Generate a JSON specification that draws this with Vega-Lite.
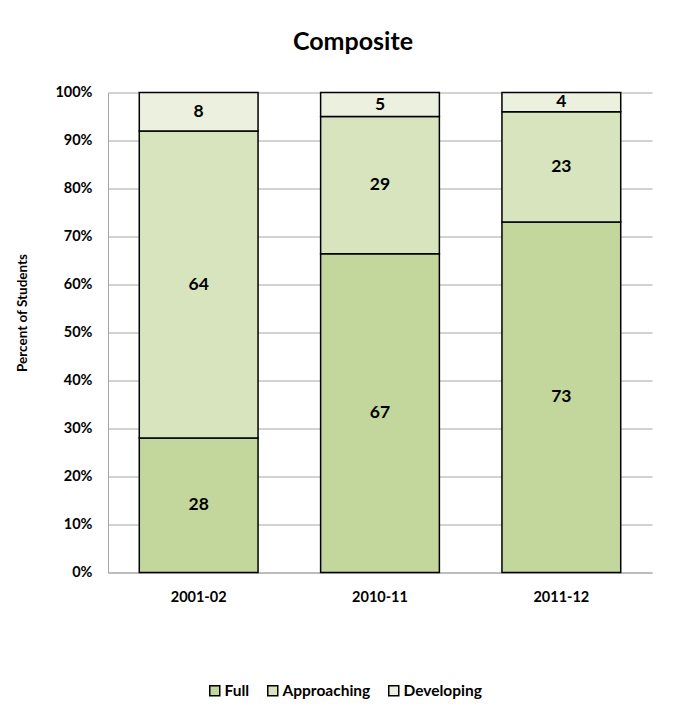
{
  "$schema": "https://vega.github.io/schema/vega-lite/v6.json",
  "width": 544,
  "height": 480,
  "autosize": {"type": "none"},
  "padding": {"left": 108, "top": 92.5, "right": 24, "bottom": 141.5},
  "background": "white",
  "config": {
    "view": {"stroke": null},
    "font": "Lato"
  },
  "title": {
    "text": "Composite",
    "font": "Lato",
    "fontSize": 25,
    "fontWeight": "bold",
    "color": "black",
    "anchor": "middle",
    "offset": 30,
    "dx": -27
  },
  "data": {
    "values": [
      {"year": "2001-02", "level": "Full", "rank": 1, "value": 28, "label": "28"},
      {"year": "2001-02", "level": "Approaching", "rank": 2, "value": 64, "label": "64"},
      {"year": "2001-02", "level": "Developing", "rank": 3, "value": 8, "label": "8"},
      {"year": "2010-11", "level": "Full", "rank": 1, "value": 66.4, "label": "67"},
      {"year": "2010-11", "level": "Approaching", "rank": 2, "value": 28.6, "label": "29"},
      {"year": "2010-11", "level": "Developing", "rank": 3, "value": 5, "label": "5"},
      {"year": "2011-12", "level": "Full", "rank": 1, "value": 73, "label": "73"},
      {"year": "2011-12", "level": "Approaching", "rank": 2, "value": 23, "label": "23"},
      {"year": "2011-12", "level": "Developing", "rank": 3, "value": 4, "label": "4"}
    ]
  },
  "encoding": {
    "x": {
      "field": "year",
      "type": "nominal",
      "scale": {"paddingInner": 0.345, "paddingOuter": 0.1725},
      "axis": {
        "title": null,
        "labelAngle": 0,
        "labelFont": "Lato",
        "labelFontSize": 14.5,
        "labelFontWeight": "bold",
        "labelColor": "black",
        "ticks": false,
        "tickSize": 0,
        "labelPadding": 18,
        "domainColor": "#a6a6a6",
        "grid": false
      }
    }
  },
  "layer": [
    {
      "mark": {"type": "bar", "stroke": "black", "strokeWidth": 1.5},
      "encoding": {
        "y": {
          "field": "value",
          "type": "quantitative",
          "stack": "zero",
          "scale": {"domain": [0, 100], "nice": false},
          "axis": {
            "title": "Percent of Students",
            "titleFont": "Lato",
            "titleFontSize": 13.5,
            "titleFontWeight": "bold",
            "titleColor": "black",
            "titleAngle": -90,
            "titleX": -86,
            "titleY": 220,
            "titleAlign": "center",
            "titleBaseline": "middle",
            "values": [0, 10, 20, 30, 40, 50, 60, 70, 80, 90, 100],
            "labelExpr": "datum.value + '%'",
            "labelFont": "Lato",
            "labelFontSize": 14.5,
            "labelFontWeight": "bold",
            "labelColor": "black",
            "labelPadding": 16,
            "ticks": false,
            "tickSize": 0,
            "domainColor": "#a6a6a6",
            "gridColor": "#a6a6a6",
            "gridWidth": 1
          }
        },
        "order": {"field": "rank", "type": "quantitative"},
        "color": {
          "field": "level",
          "type": "nominal",
          "sort": ["Full", "Approaching", "Developing"],
          "scale": {
            "domain": ["Full", "Approaching", "Developing"],
            "range": ["#c3d69b", "#d7e4bd", "#ebf1de"]
          },
          "legend": {
            "orient": "none",
            "legendX": 99,
            "legendY": 590,
            "direction": "horizontal",
            "title": null,
            "symbolType": "square",
            "symbolSize": 100,
            "symbolStrokeColor": "black",
            "symbolStrokeWidth": 1.5,
            "labelFont": "Lato",
            "labelFontSize": 15.5,
            "labelFontWeight": "bold",
            "labelColor": "black",
            "labelOffset": 2,
            "columnPadding": 14,
            "padding": 0
          }
        }
      }
    },
    {
      "mark": {"type": "text", "font": "Lato", "fontSize": 17.5, "fontWeight": "bold", "color": "black", "baseline": "middle"},
      "encoding": {
        "y": {"field": "value", "type": "quantitative", "stack": "zero", "bandPosition": 0.5},
        "detail": {"field": "level"},
        "order": {"field": "rank", "type": "quantitative"},
        "text": {"field": "label"}
      }
    }
  ]
}
